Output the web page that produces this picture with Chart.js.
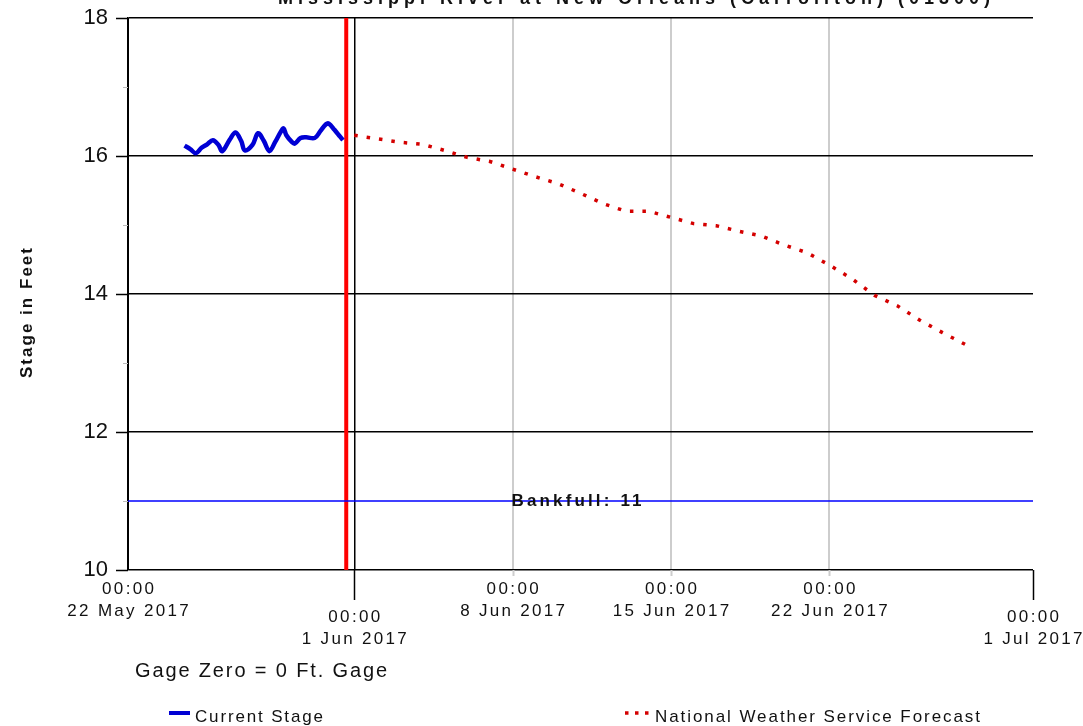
<!DOCTYPE html>
<html>
<head>
<meta charset="utf-8">
<script src="https://cdn.jsdelivr.net/npm/chart.js@4.4.1/dist/chart.umd.min.js"></script>
<style>
  html, body { margin: 0; padding: 0; background: #fff; }
  canvas { display: block; }
</style>
</head>
<body>
<canvas id="chart" width="1083" height="726"></canvas>
<script>
const title = 'Mississippi River at New Orleans (Carrollton) (01300)';
const axisStart = '2017-05-22T00:00';
const axisEnd = '2017-07-01T00:00';
const nowTime = '2017-05-31T15:30';
const bankfull = 11;
const stageMin = 10;
const stageMax = 18;

const tickTimes = ['2017-05-22T00:00', '2017-06-01T00:00', '2017-06-08T00:00', '2017-06-15T00:00', '2017-06-22T00:00', '2017-07-01T00:00'];
const tickDates = ['22 May 2017', '1 Jun 2017', '8 Jun 2017', '15 Jun 2017', '22 Jun 2017', '1 Jul 2017'];

// observed stage (ft)
const obsTimes = [
  '2017-05-24T12:00', '2017-05-24T18:00', '2017-05-25T00:00', '2017-05-25T06:00', '2017-05-25T12:00',
  '2017-05-25T18:00', '2017-05-26T00:00', '2017-05-26T04:00', '2017-05-26T12:00', '2017-05-26T18:00',
  '2017-05-27T00:00', '2017-05-27T04:00', '2017-05-27T12:00', '2017-05-27T18:00', '2017-05-28T00:00',
  '2017-05-28T06:00', '2017-05-28T12:00', '2017-05-28T18:00', '2017-05-28T21:00', '2017-05-29T00:00',
  '2017-05-29T06:00', '2017-05-29T09:00', '2017-05-29T15:00', '2017-05-29T21:00', '2017-05-30T06:00',
  '2017-05-30T12:00', '2017-05-30T18:00', '2017-05-30T21:00', '2017-05-31T03:00', '2017-05-31T09:00',
  '2017-05-31T12:00'
];
const obsStage = [
  16.15, 16.10, 16.04, 16.12, 16.17,
  16.23, 16.16, 16.07, 16.24, 16.34,
  16.22, 16.08, 16.16, 16.33, 16.22,
  16.07, 16.20, 16.35, 16.40, 16.30,
  16.20, 16.18, 16.26, 16.27, 16.26,
  16.36, 16.46, 16.47, 16.38, 16.28,
  16.23
];

// NWS forecast stage (ft)
const fcTimes = [
  '2017-06-01T00:00', '2017-06-02T00:00', '2017-06-03T00:00', '2017-06-04T00:00', '2017-06-05T00:00',
  '2017-06-06T00:00', '2017-06-07T00:00', '2017-06-08T00:00', '2017-06-09T00:00', '2017-06-10T00:00',
  '2017-06-11T00:00', '2017-06-12T00:00', '2017-06-13T00:00', '2017-06-14T00:00', '2017-06-15T00:00',
  '2017-06-16T00:00', '2017-06-17T00:00', '2017-06-18T00:00', '2017-06-19T00:00', '2017-06-20T00:00',
  '2017-06-21T00:00', '2017-06-22T00:00', '2017-06-23T00:00', '2017-06-24T00:00', '2017-06-25T00:00',
  '2017-06-26T00:00', '2017-06-27T00:00', '2017-06-28T00:00', '2017-06-28T06:00'
];
const fcStage = [
  16.30, 16.25, 16.20, 16.17, 16.08,
  15.98, 15.92, 15.81, 15.70, 15.60,
  15.46, 15.31, 15.20, 15.20, 15.11,
  15.02, 14.99, 14.91, 14.84, 14.71,
  14.60, 14.42, 14.22, 13.98, 13.83,
  13.62, 13.44, 13.27, 13.20
];

const day = (s) => (Date.parse(s + 'Z') - Date.parse(axisStart + 'Z')) / 864e5;
const ticks = tickTimes.map(day);
const toPoints = (times, vals) => times.map((t, i) => ({ x: day(t), y: vals[i] }));

const SANS = '"Liberation Sans", Arial, sans-serif';

// draws text spread out to a given width (the source uses a wide bitmap font)
const spaced = (ctx, text, x, y, font, opts = {}) => {
  ctx.font = font;
  ctx.letterSpacing = '0px';
  const w0 = ctx.measureText(text).width;
  let ls = opts.spacing || 0;
  if (opts.width) ls = (opts.width - w0) / (text.length - 1);
  const w = w0 + ls * (text.length - 1);
  ctx.letterSpacing = ls + 'px';
  ctx.textAlign = 'left';
  ctx.textBaseline = opts.baseline || 'middle';
  let left = x;
  if (opts.align === 'center') left = x - w / 2;
  if (opts.align === 'right') left = x - w;
  ctx.fillText(text, left, y);
  ctx.letterSpacing = '0px';
};

const line = (ctx, x1, y1, x2, y2, color, width, dash) => {
  ctx.save();
  ctx.strokeStyle = color;
  ctx.lineWidth = width;
  if (dash) ctx.setLineDash(dash);
  ctx.beginPath();
  ctx.moveTo(x1, y1);
  ctx.lineTo(x2, y2);
  ctx.stroke();
  ctx.restore();
};

const decor = {
  id: 'decor',
  beforeDatasetsDraw(chart) {
    const { ctx, scales: { x, y }, chartArea: a } = chart;
    // y tick marks
    for (let v = stageMin; v <= stageMax; v++) {
      const py = Math.round(y.getPixelForValue(v)) + 0.5;
      if (v % 2 === 0) line(ctx, a.left - 12, py, a.left, py, '#000', 1.5);
      else line(ctx, a.left - 5, py, a.left, py, '#bbb', 1);
    }
    // x tick marks
    ticks.forEach((v, i) => {
      if (i === 0) return;
      const px = Math.round(x.getPixelForValue(v)) + 0.5;
      if (tickDates[i].startsWith('1 ')) line(ctx, px, a.bottom, px, a.bottom + 30, '#000', 1.5);
      else line(ctx, px, a.bottom, px, a.bottom + 6, '#cdcdcd', 2);
    });
  },
  afterDraw(chart) {
    const { ctx, scales: { x, y }, chartArea: a } = chart;
    ctx.save();
    ctx.fillStyle = '#111';

    // title, clipped at the top of the image
    spaced(ctx, title, 278, 4, 'bold 18px ' + SANS, { width: 712, baseline: 'alphabetic' });

    // x tick labels
    ticks.forEach((v, i) => {
      const px = x.getPixelForValue(v);
      const low = tickDates[i].startsWith('1 ') && i > 0;
      const y1 = low ? 617 : 589;
      spaced(ctx, '00:00', px, y1, '17px ' + SANS, { spacing: 2.4, align: 'center' });
      spaced(ctx, tickDates[i], px, y1 + 22, '17px ' + SANS, { spacing: 2.3, align: 'center' });
    });

    // y axis title
    ctx.save();
    ctx.translate(32, 313);
    ctx.rotate(-Math.PI / 2);
    spaced(ctx, 'Stage in Feet', 0, 0, 'bold 17px ' + SANS, { width: 130, align: 'center', baseline: 'alphabetic' });
    ctx.restore();

    // bankfull label
    spaced(ctx, 'Bankfull: ' + bankfull, (a.left + a.right) / 2 - 4, y.getPixelForValue(bankfull),
      'bold 17px ' + SANS, { width: 130, align: 'center' });

    spaced(ctx, 'Gage Zero = 0 Ft. Gage', 135, 671, '20px ' + SANS, { width: 252 });

    // legend
    line(ctx, 169, 713, 190, 713, '#0000d4', 4);
    spaced(ctx, 'Current Stage', 195, 717, '17px ' + SANS, { width: 128 });
    line(ctx, 625, 713, 651, 713, '#d40000', 3.5, [3.5, 6.5]);
    spaced(ctx, 'National Weather Service Forecast', 655, 717, '17px ' + SANS, { width: 325 });
    ctx.restore();
  }
};

new Chart(document.getElementById('chart'), {
  type: 'line',
  data: {
    datasets: [
      {
        label: 'Bankfull',
        data: [{ x: day(axisStart), y: bankfull }, { x: day(axisEnd), y: bankfull }],
        borderColor: '#0000ff',
        borderWidth: 1.5,
      },
      {
        label: 'National Weather Service Forecast',
        data: toPoints(fcTimes, fcStage),
        borderColor: '#d40000',
        borderWidth: 3.5,
        borderDash: [3.5, 9],
        borderCapStyle: 'butt',
      },
      {
        label: 'Current Stage',
        data: toPoints(obsTimes, obsStage),
        borderColor: '#0000d4',
        borderWidth: 4.5,
        tension: 0.35,
      },
      {
        label: 'Now',
        data: [{ x: day(nowTime), y: stageMin }, { x: day(nowTime), y: stageMax }],
        borderColor: '#ff0000',
        borderWidth: 4,
      },
    ],
  },
  options: {
    responsive: false,
    animation: false,
    elements: { point: { radius: 0 } },
    layout: { padding: { top: 18, right: 50, bottom: 156, left: 0 } },
    plugins: { legend: { display: false }, tooltip: { enabled: false } },
    scales: {
      x: {
        type: 'linear',
        min: day(axisStart),
        max: day(axisEnd),
        afterBuildTicks: (s) => { s.ticks = ticks.map((value) => ({ value })); },
        afterFit: (s) => { s.height = 0; s.paddingLeft = 0; s.paddingRight = 0; },
        ticks: { display: false },
        border: { display: false },
        grid: {
          drawTicks: false,
          color: (c) => {
            const v = c.tick && c.tick.value;
            if (v === ticks[ticks.length - 1]) return 'rgba(0,0,0,0)';
            if (v === ticks[0] || v === ticks[1]) return '#000';
            return '#cdcdcd';
          },
          lineWidth: (c) => (c.tick && c.tick.value === ticks[1] ? 1.5 : 2),
        },
      },
      y: {
        min: stageMin,
        max: stageMax,
        afterFit: (s) => { s.width = 128; s.paddingTop = 0; s.paddingBottom = 0; },
        border: { display: true, color: '#000', width: 1.5 },
        grid: {
          drawTicks: false,
          color: (c) => (c.tick && c.tick.value % 2 === 0 ? '#000' : 'rgba(0,0,0,0)'),
          lineWidth: 1.5,
        },
        ticks: {
          stepSize: 1,
          padding: 20,
          color: '#111',
          font: { family: SANS, size: 22 },
          callback: (v) => (v % 2 === 0 ? v : ''),
        },
      },
    },
  },
  plugins: [decor],
});
</script>
</body>
</html>
